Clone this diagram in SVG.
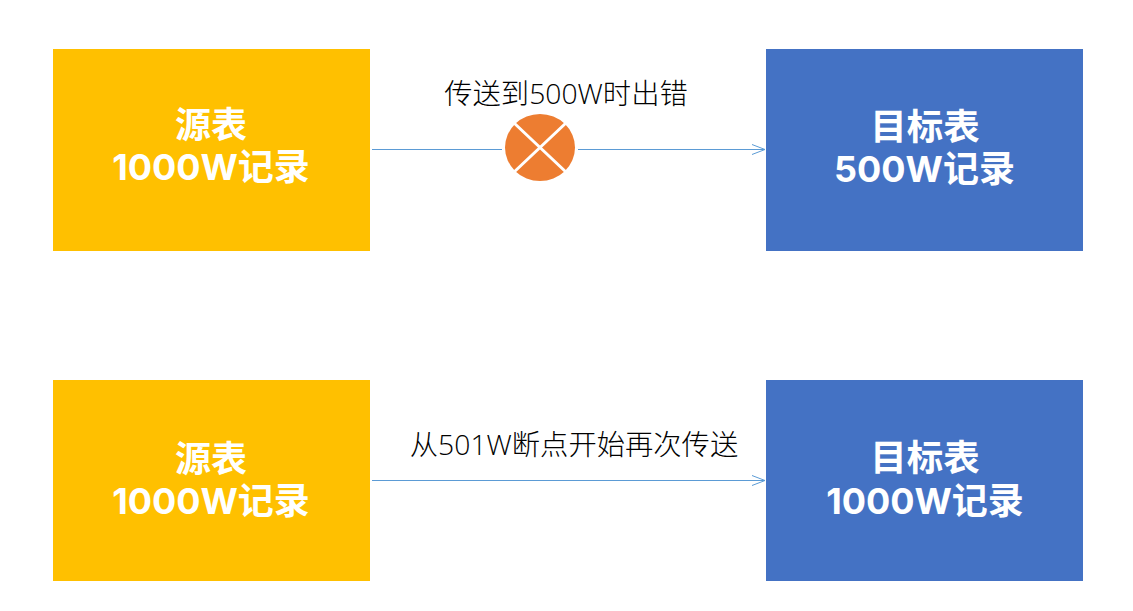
<svg xmlns="http://www.w3.org/2000/svg" width="1133" height="611" viewBox="0 0 1133 611">
<style>
text{font-family:"Inter","Noto Sans CJK SC",sans-serif;text-anchor:middle}
.t{font-size:36px;font-weight:700;fill:#fff}
.d{font-size:36.500px}
.l{font-family:"Open Sans","Noto Sans CJK SC",sans-serif;font-size:28.300px;font-weight:300;fill:#000}
.c{fill:none;stroke:#5B9BD5;stroke-width:1}
.x{stroke:#fff;stroke-width:3;fill:none}
</style>
<defs><marker id="a" markerWidth="16" markerHeight="12" refX="14" refY="6" orient="auto" markerUnits="userSpaceOnUse"><path d="M1 1L14 6L1 11" fill="none" stroke="#5B9BD5"/></marker></defs>
<rect width="1133" height="611" fill="#fff"/>
<g id="connectors">
<path class="c" d="M372 149.500H502"/>
<path class="c" d="M578 149.500H765" marker-end="url(#a)"/>
<path class="c" d="M372 480.500H765" marker-end="url(#a)"/>
</g>
<g id="src1"><rect x="53" y="49" width="317" height="202" fill="#FFC000"/><text class="t" x="211" y="138">源表</text><text class="t" x="211" y="180">1000W记录</text></g>
<g id="dst1"><rect x="766" y="49" width="317" height="202" fill="#4472C4"/><text class="t d" x="925" y="139.500">目标表</text><text class="t" x="924.500" y="182">500W记录</text></g>
<g id="src2"><rect x="53" y="380" width="317" height="201" fill="#FFC000"/><text class="t" x="211" y="472">源表</text><text class="t" x="211" y="514">1000W记录</text></g>
<g id="dst2"><rect x="766" y="380" width="317" height="201" fill="#4472C4"/><text class="t d" x="925" y="470.500">目标表</text><text class="t" x="925" y="514">1000W记录</text></g>
<g id="error"><ellipse cx="540" cy="147.500" rx="35" ry="33.500" fill="#ED7D31"/><path class="x" d="M513 122L567 173M567 122L513 173"/></g>
<g id="label1"><text class="l" x="566" y="104">传送到500W时出错</text></g>
<g id="label2"><text class="l" x="574" y="455">从501W断点开始再次传送</text></g>
</svg>
